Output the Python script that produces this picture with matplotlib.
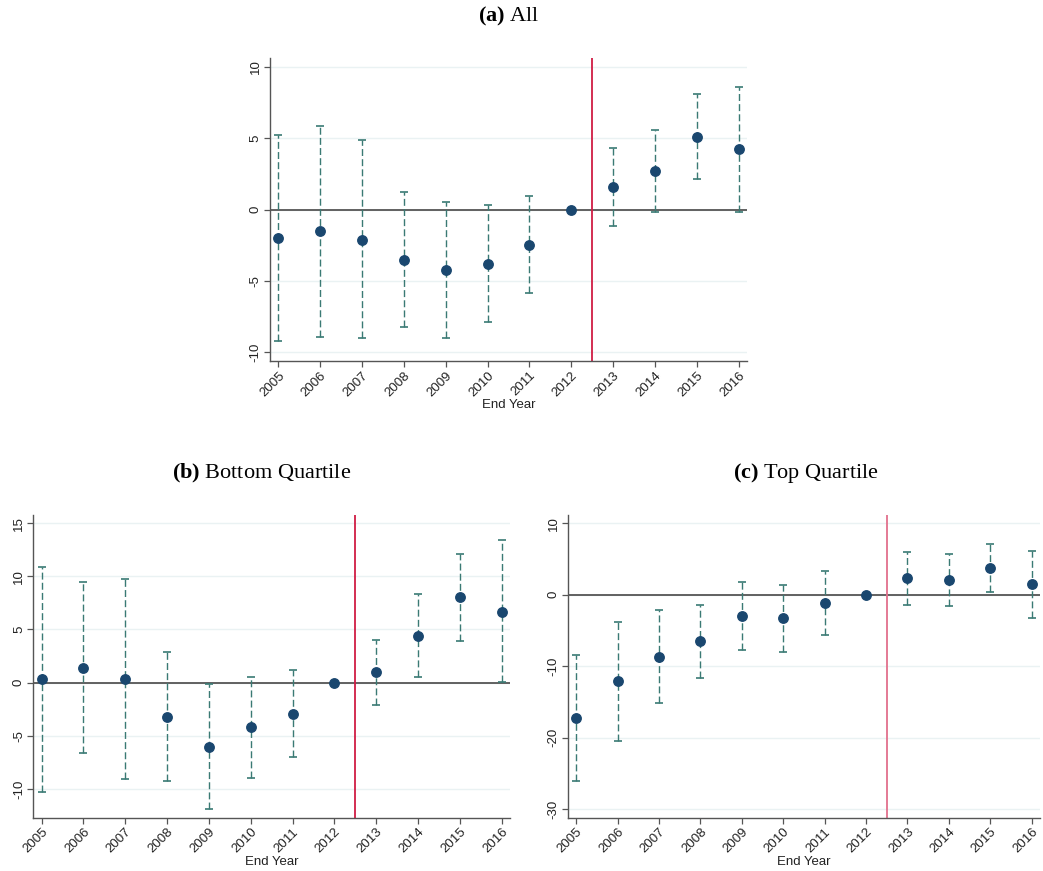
import matplotlib
matplotlib.use("Agg")
import matplotlib.pyplot as plt
import numpy as np

YEARS = [2005, 2006, 2007, 2008, 2009, 2010, 2011, 2012, 2013, 2014, 2015, 2016]

ALL_COEF = [-1.98, -1.5, -2.1, -3.5, -4.2, -3.8, -2.47, 0.0, 1.56, 2.68, 5.06, 4.2]
ALL_HI = [5.24, 5.87, 4.87, 1.24, 0.54, 0.3, 0.93, 0.0, 4.29, 5.57, 8.06, 8.6]
ALL_LO = [-9.2, -8.9, -9.0, -8.2, -8.97, -7.9, -5.83, 0.0, -1.17, -0.16, 2.12, -0.16]

BOT_COEF = [0.32, 1.41, 0.35, -3.2, -6.07, -4.19, -2.94, 0.0, 0.98, 4.42, 8.03, 6.67]
BOT_HI = [10.9, 9.5, 9.75, 2.9, -0.15, 0.5, 1.19, 0.0, 4.0, 8.3, 12.12, 13.38]
BOT_LO = [-10.24, -6.6, -9.05, -9.24, -11.9, -8.93, -7.01, 0.0, -2.07, 0.56, 3.92, 0.02]

TOP_COEF = [-17.3, -12.07, -8.7, -6.48, -2.98, -3.3, -1.16, 0.0, 2.29, 2.06, 3.69, 1.45]
TOP_HI = [-8.5, -3.8, -2.2, -1.4, 1.82, 1.31, 3.31, 0.0, 6.01, 5.74, 7.05, 6.15]
TOP_LO = [-26.06, -20.46, -15.15, -11.6, -7.69, -7.97, -5.59, 0.0, -1.44, -1.63, 0.34, -3.3]

PANELS = [
    ("(a)", "All", ALL_COEF, ALL_LO, ALL_HI, [-10, -5, 0, 5, 10], (-10.6, 10.6)),
    ("(b)", "Bottom Quartile", BOT_COEF, BOT_LO, BOT_HI, [-10, -5, 0, 5, 10, 15], (-12.69, 15.76)),
    ("(c)", "Top Quartile", TOP_COEF, TOP_LO, TOP_HI, [-30, -20, -10, 0, 10], (-31.19, 11.15)),
]

# axes boxes in figure fractions (left, bottom, width, height)
BOXES = [
    (0.2589, 0.5855, 0.4573, 0.3479),
    (0.0319, 0.0612, 0.4571, 0.3475),
    (0.5446, 0.0612, 0.4525, 0.3475),
]
TITLE_POS = [(509 / 1043, 1 - 16 / 871), (262 / 1043, 1 - 473 / 871), (806 / 1043, 1 - 473 / 871)]
RED = ["#d01c44", "#d01c44", "#e2708c"]

NAVY = "#1a476f"
TEAL = "#3a7a74"

plt.rcParams["font.family"] = ["Liberation Sans", "DejaVu Sans"]
plt.rcParams["axes.unicode_minus"] = False
plt.rcParams["mathtext.fontset"] = "custom"
plt.rcParams["mathtext.rm"] = "Liberation Serif"
plt.rcParams["mathtext.bf"] = "Liberation Serif:bold"

fig = plt.figure(figsize=(10.43, 8.71), dpi=100)

for (tag, name, coef, lo, hi, yticks, ylim), box, red, (cx, ty) in zip(PANELS, BOXES, RED, TITLE_POS):
    ax = fig.add_axes(box)
    x = np.array(YEARS, dtype=float)
    ax.set_xlim(2004.8, 2016.2)
    ax.set_ylim(*ylim)
    ax.set_yticks(yticks)
    ax.set_xticks(YEARS)
    for t in yticks:
        ax.axhline(t, color="#eaf2f3", lw=1.0, zorder=0)
    ax.axhline(0, color="#555555", lw=1.3, zorder=1)
    ax.axvline(2012.5, color=red, lw=1.3, zorder=1)
    ax.vlines(x, lo, hi, colors=TEAL, lw=1.0, linestyles=(0, (5, 2.3)), zorder=2)
    ax.plot(x, lo, ls="none", marker="_", ms=6, mew=1.2, color=TEAL, zorder=2)
    ax.plot(x, hi, ls="none", marker="_", ms=6, mew=1.2, color=TEAL, zorder=2)
    ax.plot(x, coef, ls="none", marker="o", ms=6.8, color=NAVY, mec=NAVY, zorder=3)

    for side in ("top", "right"):
        ax.spines[side].set_visible(False)
    for side in ("left", "bottom"):
        ax.spines[side].set_color("#555555")
        ax.spines[side].set_linewidth(1.0)
    ax.tick_params(axis="both", direction="out", length=4, width=0.9, color="#555555",
                   labelsize=9.5, labelcolor="#222222", pad=2)
    ax.set_xticklabels([str(y) for y in YEARS], rotation=45, ha="right", rotation_mode="anchor")
    plt.setp(ax.get_yticklabels(), rotation=90, va="center")
    ax.set_xlabel("End Year", fontsize=9.5, color="#222222", va="center")
    ax.xaxis.set_label_coords(0.5, -0.146)

    fig.text(cx, ty, r"$\mathbf{" + tag + r"}$" + " " + name, ha="center", va="center",
             fontsize=16, family=["Liberation Serif", "DejaVu Serif"])

fig.savefig("out.png", dpi=100)
